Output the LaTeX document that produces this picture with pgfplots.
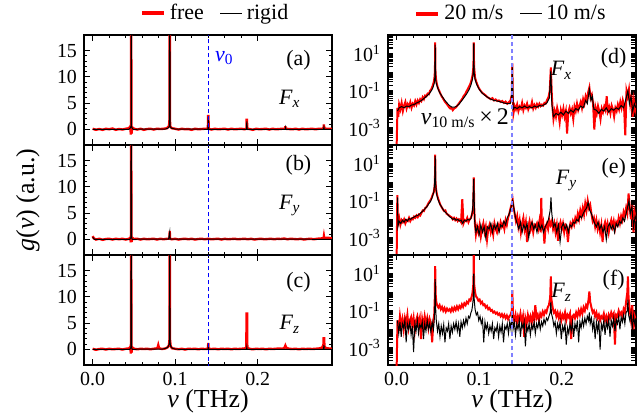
\documentclass[border=0pt]{standalone}
\usepackage{fontspec}
\setmainfont{Liberation Serif}
\usepackage{pgfplots}
\pgfplotsset{compat=1.18}

\definecolor{lightblue}{RGB}{128,128,255}

\newcommand{\nuu}{\textit{ν}}
\newcommand{\Fc}[1]{\textit{F}\textsubscript{\textit{#1}}}

\tikzset{lab/.style={font=\fontsize{11}{13}\selectfont}}

\pgfplotsset{
  panel/.style={
    scale only axis, width=124bp, height=55bp, anchor=south west,
    xmin=-0.0105, xmax=0.29,
    xtick={0,0.1,0.2}, minor x tick num=4, xticklabels={},
    tick align=inside,
    ticklabel style={font=\fontsize{10}{12}\selectfont},
    axis line style={line width=0.7pt},
    every tick/.style={line width=0.5pt, black},
    major tick length=3bp, minor tick length=1.7bp,
  },
  linpanel/.style={panel, ymin=-3, ymax=18,
    ytick={0,5,10,15}, yticklabels={0,5,10,15}, minor y tick num=4},
  % log axes: every decade and every 2..9 step is a tick, labels only at odd decades
  logpanel/.style={panel, ymin=1.2e-4, ymax=100,
    ytick={1e-4,2e-4,3e-4,4e-4,5e-4,6e-4,7e-4,8e-4,9e-4,
      1e-3,2e-3,3e-3,4e-3,5e-3,6e-3,7e-3,8e-3,9e-3,
      0.01,0.02,0.03,0.04,0.05,0.06,0.07,0.08,0.09,
      0.1,0.2,0.3,0.4,0.5,0.6,0.7,0.8,0.9,
      1,2,3,4,5,6,7,8,9,
      10,20,30,40,50,60,70,80,90,100},
    yticklabels={,,,,,,,,,{10\textsuperscript{-3}},,,,,,,,,,,,,,,,,,{10\textsuperscript{-1}},,,,,,,,,,,,,,,,,,{10\textsuperscript{1}},,,,,,,,,},
    ytick style={line width=0.6pt},
    major tick length=2.6bp},
  bottompanel/.style={xticklabels={0.0,0.1,0.2}},
  redline/.style={red, line width=1.2pt},
  blackline/.style={black, line width=0.5pt},
  toplegend/.style={legend style={at={(0.5,1)}, anchor=south, yshift=2bp,
    draw=none, fill=none, legend columns=2,
    font=\fontsize{11}{13}\selectfont,
    /tikz/every even column/.append style={column sep=6bp}},
    legend image code/.code={\draw[##1] (0bp,0bp) -- (11bp,0bp);}},
}

\begin{document}
\begin{tikzpicture}
\path[use as bounding box] (0,0) rectangle (320bp,209.5bp);

% ---------------- (a) Fx, free vs rigid
\begin{axis}[linpanel, at={(42bp,137bp)}, toplegend, legend style={xshift=4bp}]
\addlegendimage{red, line width=2bp}
\addlegendimage{blackline}
\addplot[redline] coordinates {
(0.000,0.1)(0.004,-0.1)(0.008,0.05)(0.012,-0.1)(0.016,0.1)(0.02,0)(0.024,0.15)(0.028,-0.1)
(0.032,0.05)(0.036,-0.05)(0.040,0.1)(0.044,0.2)(0.0458,0.6)(0.0462,-1)(0.0465,2)(0.0467,30)
(0.0469,2)(0.0472,-0.8)(0.0478,0.4)(0.050,0.1)(0.054,-0.05)(0.058,0.1)(0.062,-0.1)(0.066,0.05)
(0.07,0.1)(0.074,-0.05)(0.078,0.1)(0.082,0.05)(0.086,0.1)(0.09,0.2)(0.0925,0.6)(0.0932,2)
(0.0934,30)(0.0936,2)(0.094,0.5)(0.096,0.2)(0.1,0.1)(0.104,-0.05)(0.108,0.1)(0.112,0)
(0.116,0.05)(0.12,-0.1)(0.124,0.1)(0.128,0)(0.132,0.05)(0.136,0.1)(0.1396,0.1)(0.1399,2.5)
(0.1403,2.5)(0.1406,0.1)(0.144,-0.05)(0.148,0.1)(0.152,0)(0.156,0.05)(0.16,0.1)(0.164,-0.05)
(0.168,0.1)(0.172,0)(0.176,0.05)(0.18,0.1)(0.184,0)(0.1864,0.1)(0.1866,1.8)(0.1870,1.8)
(0.1872,0.1)(0.19,0.05)(0.194,-0.1)(0.198,0.1)(0.202,0)(0.206,0.05)(0.21,0.1)(0.214,-0.05)
(0.218,0.1)(0.222,0)(0.226,0.05)(0.23,0.1)(0.2332,0.1)(0.2335,0.6)(0.2338,0.1)(0.238,0.05)
(0.242,0)(0.246,0.1)(0.25,-0.05)(0.254,0.1)(0.258,0)(0.262,0.05)(0.266,0.1)(0.27,0)
(0.274,0.1)(0.278,0.1)(0.2798,0.2)(0.2802,0.9)(0.2806,0.2)(0.283,0.1)(0.29,0.1)};
\addplot[blackline] coordinates {
(0,0)(0.044,0)(0.0458,0.3)(0.0465,0.6)(0.0467,30)(0.0469,0.6)(0.0476,0.3)(0.049,0)
(0.088,0.05)(0.091,0.2)(0.0928,0.5)(0.0934,30)(0.094,0.5)(0.0955,0.2)(0.1,0.05)(0.1396,0)
(0.1401,2.5)(0.1406,0)(0.1864,0)(0.1868,1.5)(0.1872,0)(0.2335,0)(0.2338,0.3)(0.2341,0)
(0.2798,0)(0.2802,0.4)(0.2806,0)(0.29,0)};
\addplot[blue, line width=0.5pt, dash pattern=on 2bp off 1.5bp] coordinates {(0.14,-5)(0.14,25)};
\legend{free, rigid}
\node[lab, blue, anchor=west] at (rel axis cs:0.5,0.79) {\nuu\textsubscript{0}};
\node[lab] at (rel axis cs:0.865,0.77) {(a)};
\node[lab] at (rel axis cs:0.83,0.42) {\Fc{x}};
\end{axis}

% ---------------- (b) Fy
\begin{axis}[linpanel, at={(42bp,82bp)}]
\addplot[redline] coordinates {
(0.000,0.6)(0.0012,0.2)(0.004,-0.05)(0.008,0.1)(0.012,-0.1)(0.016,0.05)(0.02,0.1)(0.024,-0.05)
(0.028,0.1)(0.032,0)(0.036,0.1)(0.040,-0.05)(0.044,0.1)(0.0458,0.3)(0.0462,-0.6)(0.0465,1.5)
(0.0467,30)(0.0469,1.5)(0.0472,-0.5)(0.0478,0.3)(0.050,0.05)(0.054,0.1)(0.058,-0.05)(0.062,0.1)
(0.066,0)(0.07,0.05)(0.074,0.1)(0.078,-0.05)(0.082,0.1)(0.086,0)(0.09,0.1)(0.0931,0.1)
(0.0934,1.6)(0.0937,0.1)(0.096,0)(0.1,0.1)(0.104,-0.05)(0.108,0.05)(0.112,0.1)(0.116,0)
(0.12,0.1)(0.124,-0.05)(0.128,0.05)(0.132,0.1)(0.136,0)(0.14,0.1)(0.144,0)(0.148,0.05)
(0.152,0.1)(0.156,-0.05)(0.16,0.1)(0.164,0)(0.168,0.05)(0.172,0.1)(0.176,0)(0.18,0.05)
(0.184,0.1)(0.188,0)(0.192,0.1)(0.196,-0.05)(0.2,0.05)(0.204,0.1)(0.208,0)(0.212,0.05)
(0.216,0.1)(0.22,0)(0.224,0.1)(0.228,0.05)(0.232,0.15)(0.236,0)(0.24,0.1)(0.244,0.05)
(0.248,0)(0.252,0.1)(0.256,-0.05)(0.26,0.05)(0.264,0.1)(0.268,0)(0.272,0.1)(0.276,0.15)
(0.2798,0.2)(0.2802,0.6)(0.2806,0.2)(0.284,0.3)(0.29,0.2)};
\addplot[blackline] coordinates {
(0,0.4)(0.002,0)(0.045,0)(0.0462,0.3)(0.0467,30)(0.0472,0.3)(0.048,0)(0.092,0.05)
(0.0934,1.4)(0.0938,0.05)(0.29,0)};
\addplot[blue, line width=0.5pt, dash pattern=on 2bp off 1.5bp] coordinates {(0.14,-5)(0.14,25)};
\node[lab] at (rel axis cs:0.865,0.82) {(b)};
\node[lab] at (rel axis cs:0.83,0.45) {\Fc{y}};
\end{axis}

% ---------------- (c) Fz
\begin{axis}[linpanel, bottompanel, at={(42bp,27bp)}]
\addplot[redline] coordinates {
(0.000,0.1)(0.004,-0.1)(0.008,0.05)(0.012,0.1)(0.016,-0.05)(0.02,0.1)(0.024,0)(0.028,0.05)
(0.032,0.1)(0.036,-0.05)(0.04,0.1)(0.044,0.15)(0.0458,0.5)(0.0462,-0.8)(0.0465,2)(0.0467,30)
(0.0469,2)(0.0472,-0.6)(0.0478,0.4)(0.05,0.1)(0.054,0)(0.058,0.1)(0.062,0.05)(0.066,0.1)
(0.07,0)(0.074,0.1)(0.0785,0.2)(0.0795,0.8)(0.0805,0.2)(0.084,0.05)(0.088,0.15)(0.091,0.4)
(0.0925,0.8)(0.0932,2)(0.0934,30)(0.0936,2)(0.0945,0.6)(0.096,0.2)(0.1,0.1)(0.104,0)
(0.108,0.1)(0.112,-0.05)(0.116,0.1)(0.12,0.05)(0.124,0.1)(0.128,0)(0.132,0.1)(0.136,0.05)
(0.1397,0.1)(0.1401,1.2)(0.1405,0.1)(0.144,0.05)(0.148,0.1)(0.152,0)(0.156,0.1)(0.16,0.05)
(0.164,0.1)(0.168,0)(0.172,0.1)(0.176,0.05)(0.18,0.1)(0.184,0.15)(0.1862,0.3)(0.1865,6.8)
(0.1871,6.8)(0.1874,0.3)(0.19,0.1)(0.194,0)(0.198,0.1)(0.202,0.05)(0.206,0.1)(0.21,0)
(0.214,0.1)(0.218,0.05)(0.222,0.1)(0.226,0.15)(0.23,0.1)(0.2325,0.3)(0.2335,0.7)(0.2345,0.3)
(0.238,0.1)(0.242,0.05)(0.246,0.1)(0.25,0)(0.254,0.1)(0.258,0.05)(0.262,0.1)(0.266,0.05)
(0.27,0.1)(0.274,0.15)(0.278,0.3)(0.2796,0.8)(0.2799,2.1)(0.2805,2.1)(0.2808,0.5)(0.283,0.2)
(0.29,0.1)};
\addplot[blackline] coordinates {
(0,0)(0.045,0)(0.0462,0.3)(0.0467,30)(0.0472,0.3)(0.048,0)(0.085,0.05)(0.089,0.2)
(0.091,0.4)(0.0925,0.9)(0.093,1.3)(0.0934,30)(0.0938,1.3)(0.0945,0.6)(0.0965,0.2)(0.1,0.05)
(0.104,0)(0.1397,0)(0.1401,1.0)(0.1405,0)(0.1865,0)(0.1868,0.4)(0.1871,0)(0.2798,0)
(0.2802,0.8)(0.2806,0)(0.29,0)};
\addplot[blue, line width=0.5pt, dash pattern=on 2bp off 1.5bp] coordinates {(0.14,-5)(0.14,25)};
\node[lab] at (rel axis cs:0.865,0.75) {(c)};
\node[lab] at (rel axis cs:0.83,0.37) {\Fc{z}};
\end{axis}

% ---------------- (d) Fx, 20 vs 10 m/s
\begin{semilogyaxis}[logpanel, at={(194bp,137bp)}, toplegend]
\addlegendimage{red, line width=2bp}
\addlegendimage{blackline}
\addplot[red, line width=1pt] coordinates {
(0.0000,1.2e-4)(0.0010,0.012)(0.0020,0.004)(0.0030,0.018)(0.0045,0.010)(0.0060,0.022)
(0.0075,0.008)(0.0090,0.016)(0.0105,0.025)(0.0120,0.011)(0.0135,0.019)(0.0150,0.014)
(0.0165,0.024)(0.0180,0.012)(0.0195,0.020)(0.0210,0.016)(0.0225,0.028)(0.0240,0.018)
(0.0255,0.030)(0.0270,0.022)(0.0285,0.035)(0.0300,0.028)(0.0315,0.045)(0.0330,0.035)
(0.0345,0.055)(0.0360,0.05)(0.0375,0.07)(0.0390,0.065)(0.0405,0.10)(0.0420,0.12)
(0.0435,0.18)(0.0450,0.30)(0.0460,0.6)(0.0464,1.5)(0.0467,40)(0.0470,1.2)(0.0475,0.5)
(0.0485,0.25)(0.0500,0.14)(0.0515,0.10)(0.0530,0.07)(0.0545,0.05)(0.0560,0.04)
(0.0575,0.03)(0.0590,0.024)(0.0605,0.02)(0.0620,0.016)(0.0635,0.013)(0.0650,0.011)
(0.0665,0.012)(0.0680,0.009)(0.0695,0.011)(0.0710,0.012)(0.0725,0.014)(0.0740,0.017)
(0.0755,0.021)(0.0770,0.026)(0.0785,0.032)(0.0800,0.040)(0.0815,0.055)(0.0830,0.065)
(0.0845,0.090)(0.0860,0.12)(0.0875,0.16)(0.0890,0.22)(0.0905,0.35)(0.0920,0.7)(0.0930,2)
(0.0934,40)(0.0938,2)(0.0950,0.5)(0.0965,0.30)(0.0980,0.20)(0.0995,0.14)(0.1010,0.11)
(0.1025,0.09)(0.1040,0.075)(0.1060,0.065)(0.1080,0.055)(0.1100,0.045)(0.1120,0.040)
(0.1140,0.035)(0.1160,0.040)(0.1180,0.030)(0.1200,0.034)(0.1220,0.028)(0.1240,0.030)
(0.1260,0.025)(0.1280,0.028)(0.1300,0.022)(0.1320,0.026)(0.1340,0.020)(0.1360,0.024)
(0.1380,0.030)(0.1395,0.06)(0.1401,3)(0.1407,0.04)(0.1415,0.006)(0.1430,0.015)
(0.1445,0.010)(0.1460,0.018)(0.1475,0.008)(0.1490,0.014)(0.1505,0.011)(0.1520,0.022)
(0.1535,0.009)(0.1550,0.016)(0.1565,0.012)(0.1580,0.020)(0.1595,0.010)(0.1610,0.015)
(0.1625,0.013)(0.1640,0.025)(0.1655,0.011)(0.1670,0.017)(0.1685,0.012)(0.1700,0.019)
(0.1715,0.014)(0.1730,0.020)(0.1745,0.015)(0.1760,0.018)(0.1775,0.016)(0.1790,0.022)
(0.1805,0.020)(0.1820,0.030)(0.1840,0.045)(0.1855,0.10)(0.1868,1.8)(0.1880,0.06)
(0.1890,0.010)(0.1900,0.003)(0.1915,0.008)(0.1930,0.004)(0.1945,0.012)(0.1960,0.006)
(0.1975,0.002)(0.1990,0.009)(0.2005,0.005)(0.2020,0.011)(0.2035,0.004)(0.2050,0.008)
(0.2065,0.0005)(0.2080,0.007)(0.2095,0.012)(0.2110,0.006)(0.2125,0.010)(0.2140,0.003)
(0.2155,0.014)(0.2170,0.008)(0.2185,0.020)(0.2200,0.009)(0.2215,0.015)(0.2230,0.025)
(0.2245,0.012)(0.2260,0.035)(0.2275,0.020)(0.2290,0.050)(0.2305,0.03)(0.2320,0.08)
(0.2335,0.15)(0.2350,0.04)(0.2365,0.06)(0.2380,0.02)(0.2395,0.0008)(0.2410,0.012)
(0.2425,0.006)(0.2440,0.015)(0.2455,0.008)(0.2470,0.003)(0.2485,0.011)(0.2500,0.007)
(0.2515,0.014)(0.2530,0.009)(0.2545,0.05)(0.2560,0.008)(0.2575,0.013)(0.2590,0.006)
(0.2605,0.016)(0.2620,0.010)(0.2635,0.004)(0.2650,0.012)(0.2665,0.008)(0.2680,0.018)
(0.2695,0.010)(0.2710,0.025)(0.2725,0.012)(0.2740,0.03)(0.2755,0.015)(0.2770,0.0004)
(0.2785,0.10)(0.2800,0.05)(0.2815,0.12)(0.2830,0.02)(0.2845,0.06)(0.2860,0.004)
(0.2875,0.03)(0.2890,0.01)(0.2900,0.02)};
\addplot[blackline] coordinates {
(0.0010,0.008)(0.003,0.012)(0.006,0.014)(0.009,0.012)(0.012,0.015)(0.015,0.014)(0.018,0.017)
(0.021,0.018)(0.024,0.022)(0.027,0.025)(0.030,0.03)(0.033,0.038)(0.036,0.05)(0.039,0.065)
(0.042,0.10)(0.044,0.15)(0.0455,0.25)(0.0462,0.5)(0.0467,30)(0.0472,0.4)(0.048,0.25)
(0.050,0.13)(0.052,0.08)(0.055,0.05)(0.058,0.032)(0.061,0.022)(0.064,0.016)(0.067,0.013)
(0.070,0.013)(0.073,0.015)(0.076,0.02)(0.079,0.03)(0.082,0.045)(0.085,0.07)(0.088,0.12)
(0.090,0.2)(0.092,0.45)(0.093,1.2)(0.0934,35)(0.0938,1.0)(0.095,0.4)(0.097,0.22)(0.100,0.12)
(0.103,0.08)(0.106,0.06)(0.110,0.045)(0.114,0.035)(0.118,0.03)(0.122,0.028)(0.126,0.025)
(0.130,0.022)(0.134,0.02)(0.1375,0.02)(0.139,0.03)(0.1401,1.8)(0.1412,0.01)(0.143,0.013)
(0.146,0.011)(0.149,0.014)(0.152,0.012)(0.155,0.015)(0.158,0.012)(0.161,0.014)(0.164,0.012)
(0.167,0.015)(0.170,0.013)(0.173,0.016)(0.176,0.015)(0.179,0.018)(0.182,0.022)(0.185,0.04)
(0.1868,1.2)(0.188,0.02)(0.190,0.004)(0.193,0.006)(0.196,0.005)(0.199,0.007)(0.202,0.005)
(0.205,0.008)(0.208,0.006)(0.211,0.009)(0.214,0.007)(0.217,0.011)(0.220,0.009)(0.223,0.015)
(0.226,0.012)(0.229,0.03)(0.231,0.02)(0.2335,0.12)(0.2355,0.03)(0.237,0.05)(0.239,0.01)
(0.242,0.009)(0.245,0.006)(0.248,0.01)(0.251,0.008)(0.254,0.012)(0.257,0.007)(0.260,0.011)
(0.263,0.009)(0.266,0.012)(0.269,0.01)(0.272,0.016)(0.275,0.012)(0.278,0.04)(0.2802,0.1)
(0.282,0.02)(0.284,0.05)(0.286,0.008)(0.288,0.02)(0.290,0.012)};
\addplot[lightblue, line width=0.9pt, dash pattern=on 2bp off 1.5bp] coordinates {(0.14,1e-5)(0.14,1e3)};
\legend{20 m/s, 10 m/s}
\node[lab] at (rel axis cs:0.91,0.79) {(d)};
\node[lab] at (rel axis cs:0.70,0.68) {\Fc{x}};
\node[font=\fontsize{12}{14}\selectfont] at (rel axis cs:0.31,0.245) {\nuu\textsubscript{10 m/s}\,×\,2};
\end{semilogyaxis}

% ---------------- (e) Fy
\begin{semilogyaxis}[logpanel, at={(194bp,82bp)}]
\addplot[red, line width=1pt] coordinates {
(0.0000,1e-4)(0.0008,0.2)(0.0015,0.006)(0.003,0.012)(0.0045,0.005)(0.006,0.009)(0.0075,0.007)
(0.009,0.010)(0.0105,0.006)(0.012,0.009)(0.0135,0.008)(0.015,0.012)(0.0165,0.008)(0.018,0.011)
(0.0195,0.010)(0.021,0.014)(0.0225,0.012)(0.024,0.016)(0.0255,0.013)(0.027,0.018)(0.0285,0.016)
(0.030,0.022)(0.0315,0.03)(0.033,0.028)(0.0345,0.04)(0.036,0.045)(0.0375,0.06)(0.039,0.08)
(0.0405,0.1)(0.042,0.13)(0.0435,0.2)(0.045,0.3)(0.046,0.6)(0.0464,1.5)(0.0467,30)(0.047,1.2)
(0.0475,0.5)(0.0485,0.25)(0.050,0.14)(0.0515,0.09)(0.053,0.06)(0.0545,0.045)(0.056,0.035)
(0.0575,0.028)(0.059,0.03)(0.0605,0.02)(0.062,0.018)(0.0635,0.016)(0.065,0.014)(0.0665,0.013)
(0.068,0.01)(0.0695,0.012)(0.071,0.009)(0.0725,0.011)(0.074,0.008)(0.0755,0.01)(0.0765,0.009)
(0.078,0.007)(0.0795,0.12)(0.081,0.006)(0.0825,0.009)(0.084,0.008)(0.0855,0.012)(0.087,0.007)
(0.0885,0.010)(0.090,0.012)(0.0915,0.02)(0.0928,0.05)(0.0934,1.8)(0.094,0.04)(0.0948,0.006)
(0.096,0.0015)(0.0975,0.004)(0.099,0.002)(0.1005,0.005)(0.102,0.0012)(0.1035,0.003)(0.105,0.006)
(0.1065,0.002)(0.108,0.004)(0.1095,0.0008)(0.111,0.003)(0.1125,0.005)(0.114,0.002)(0.1155,0.004)
(0.117,0.0015)(0.1185,0.006)(0.120,0.003)(0.1215,0.002)(0.123,0.005)(0.1245,0.003)(0.126,0.007)
(0.1275,0.004)(0.129,0.006)(0.1305,0.003)(0.132,0.009)(0.1335,0.005)(0.135,0.012)(0.1365,0.02)
(0.138,0.04)(0.1395,0.07)(0.1405,0.12)(0.1415,0.05)(0.143,0.02)(0.1445,0.008)(0.146,0.015)
(0.1475,0.004)(0.149,0.009)(0.1505,0.002)(0.152,0.006)(0.1535,0.012)(0.155,0.003)(0.1565,0.007)
(0.158,0.0006)(0.1595,0.004)(0.161,0.008)(0.1625,0.003)(0.164,0.006)(0.1655,0.002)(0.167,0.005)
(0.1685,0.004)(0.170,0.006)(0.1715,0.003)(0.173,0.008)(0.1745,0.002)(0.1752,0.14)(0.176,0.004)
(0.1775,0.007)(0.179,0.0005)(0.1805,0.004)(0.182,0.006)(0.1835,0.003)(0.185,0.009)(0.1865,0.005)
(0.188,0.008)(0.1895,0.003)(0.191,0.006)(0.1925,0.002)(0.194,0.005)(0.1955,0.0007)(0.197,0.004)
(0.1985,0.007)(0.200,0.003)(0.2015,0.006)(0.203,0.002)(0.2045,0.005)(0.206,0.004)(0.2075,0.0006)
(0.209,0.003)(0.2105,0.006)(0.212,0.004)(0.2135,0.008)(0.215,0.005)(0.2165,0.012)(0.218,0.008)
(0.2195,0.02)(0.221,0.01)(0.2225,0.03)(0.224,0.015)(0.2255,0.04)(0.227,0.018)(0.2285,0.07)
(0.230,0.03)(0.2315,0.1)(0.233,0.04)(0.2345,0.06)(0.236,0.02)(0.2375,0.008)(0.239,0.012)
(0.2405,0.004)(0.242,0.009)(0.2435,0.003)(0.245,0.006)(0.2465,0.002)(0.248,0.005)(0.2495,0.0006)
(0.251,0.004)(0.2525,0.007)(0.254,0.003)(0.2555,0.006)(0.257,0.002)(0.2585,0.005)(0.260,0.009)
(0.2615,0.004)(0.263,0.008)(0.2645,0.003)(0.266,0.007)(0.2675,0.005)(0.269,0.012)(0.2705,0.006)
(0.272,0.015)(0.2735,0.009)(0.275,0.025)(0.2765,0.015)(0.278,0.04)(0.2795,0.02)(0.281,0.25)
(0.2825,0.04)(0.284,0.01)(0.2855,0.06)(0.287,0.002)(0.2885,0.02)(0.290,0.008)};
\addplot[blackline] coordinates {
(0.001,0.15)(0.0015,0.004)(0.003,0.008)(0.005,0.006)(0.007,0.009)(0.009,0.007)(0.011,0.010)
(0.013,0.008)(0.015,0.011)(0.017,0.010)(0.019,0.012)(0.021,0.013)(0.023,0.015)(0.025,0.016)
(0.027,0.018)(0.029,0.022)(0.031,0.026)(0.033,0.032)(0.035,0.04)(0.037,0.05)(0.039,0.07)
(0.041,0.09)(0.043,0.15)(0.045,0.3)(0.046,0.8)(0.0467,25)(0.0474,0.6)(0.0485,0.22)(0.050,0.12)
(0.052,0.07)(0.054,0.05)(0.056,0.035)(0.058,0.026)(0.060,0.022)(0.062,0.018)(0.064,0.014)
(0.066,0.012)(0.068,0.010)(0.070,0.011)(0.072,0.009)(0.074,0.010)(0.076,0.008)(0.078,0.009)
(0.080,0.006)(0.082,0.009)(0.084,0.008)(0.086,0.010)(0.088,0.009)(0.090,0.011)(0.092,0.03)
(0.0934,1.5)(0.0945,0.008)(0.096,0.002)(0.098,0.004)(0.100,0.0015)(0.102,0.005)(0.104,0.002)
(0.106,0.004)(0.108,0.001)(0.110,0.004)(0.112,0.003)(0.114,0.006)(0.116,0.002)(0.118,0.005)
(0.120,0.003)(0.122,0.006)(0.124,0.002)(0.126,0.005)(0.128,0.004)(0.130,0.008)(0.132,0.005)
(0.134,0.012)(0.136,0.018)(0.138,0.035)(0.1405,0.1)(0.142,0.04)(0.144,0.012)(0.146,0.006)
(0.148,0.003)(0.150,0.007)(0.152,0.002)(0.154,0.005)(0.156,0.003)(0.158,0.006)(0.160,0.001)
(0.162,0.004)(0.164,0.007)(0.166,0.003)(0.168,0.005)(0.170,0.002)(0.172,0.006)(0.174,0.003)
(0.176,0.005)(0.178,0.002)(0.180,0.004)(0.182,0.006)(0.184,0.01)(0.186,0.03)(0.187,0.15)
(0.188,0.02)(0.190,0.004)(0.192,0.006)(0.194,0.002)(0.196,0.005)(0.198,0.0006)(0.200,0.004)
(0.202,0.006)(0.204,0.003)(0.206,0.005)(0.208,0.002)(0.210,0.005)(0.212,0.004)(0.214,0.007)
(0.216,0.006)(0.218,0.01)(0.220,0.008)(0.222,0.015)(0.224,0.012)(0.226,0.02)(0.228,0.03)
(0.230,0.04)(0.232,0.08)(0.234,0.03)(0.236,0.02)(0.238,0.01)(0.240,0.006)(0.242,0.004)
(0.244,0.007)(0.246,0.003)(0.248,0.005)(0.250,0.002)(0.252,0.004)(0.254,0.0008)(0.256,0.004)
(0.258,0.006)(0.260,0.003)(0.262,0.005)(0.264,0.002)(0.266,0.006)(0.268,0.004)(0.270,0.008)
(0.272,0.006)(0.274,0.012)(0.276,0.008)(0.278,0.02)(0.280,0.05)(0.2815,0.1)(0.283,0.02)
(0.285,0.05)(0.287,0.004)(0.289,0.015)(0.290,0.01)};
\addplot[lightblue, line width=0.9pt, dash pattern=on 2bp off 1.5bp] coordinates {(0.14,1e-5)(0.14,1e3)};
\node[lab] at (rel axis cs:0.91,0.79) {(e)};
\node[lab] at (rel axis cs:0.72,0.68) {\Fc{y}};
\end{semilogyaxis}

% ---------------- (f) Fz
\begin{semilogyaxis}[logpanel, bottompanel, at={(194bp,27bp)}]
\addplot[red, line width=1pt] coordinates {
(0.000,1e-4)(0.001,0.03)(0.0025,0.008)(0.004,0.05)(0.0055,0.015)(0.007,0.035)(0.0085,0.01)
(0.010,0.04)(0.0115,0.02)(0.013,0.06)(0.0145,0.012)(0.016,0.03)(0.0175,0.045)(0.019,0.015)
(0.0205,0.04)(0.022,0.008)(0.0235,0.03)(0.025,0.05)(0.0265,0.02)(0.028,0.04)(0.0295,0.003)
(0.031,0.035)(0.0325,0.015)(0.034,0.05)(0.0355,0.02)(0.037,0.04)(0.0385,0.012)(0.040,0.035)
(0.0415,0.02)(0.043,0.002)(0.0445,0.03)(0.0455,0.06)(0.0462,0.5)(0.0467,25)(0.0472,0.8)
(0.048,0.3)(0.049,0.2)(0.0505,0.15)(0.052,0.2)(0.0535,0.12)(0.055,0.16)(0.0565,0.1)(0.058,0.14)
(0.0595,0.09)(0.061,0.13)(0.0625,0.1)(0.064,0.12)(0.0655,0.09)(0.067,0.14)(0.0685,0.1)
(0.070,0.15)(0.0715,0.11)(0.073,0.17)(0.0745,0.12)(0.076,0.18)(0.0775,0.14)(0.079,0.22)
(0.0805,0.16)(0.082,0.25)(0.0835,0.2)(0.085,0.3)(0.0865,0.25)(0.088,0.4)(0.0895,0.35)(0.091,0.6)
(0.092,1)(0.093,3)(0.0934,150)(0.0938,3)(0.095,1)(0.096,0.6)(0.0975,0.5)(0.099,0.35)(0.1005,0.4)
(0.102,0.25)(0.1035,0.3)(0.105,0.2)(0.1065,0.22)(0.108,0.15)(0.1095,0.18)(0.111,0.12)
(0.1125,0.14)(0.114,0.1)(0.1155,0.11)(0.117,0.08)(0.1185,0.09)(0.120,0.07)(0.1215,0.08)
(0.123,0.06)(0.1245,0.07)(0.126,0.05)(0.1275,0.065)(0.129,0.045)(0.1305,0.06)(0.132,0.04)
(0.1335,0.055)(0.135,0.035)(0.1365,0.05)(0.138,0.06)(0.1395,0.1)(0.1401,1.3)(0.141,0.05)
(0.1425,0.03)(0.144,0.06)(0.1455,0.02)(0.147,0.05)(0.1485,0.03)(0.150,0.07)(0.1515,0.025)
(0.153,0.05)(0.1545,0.004)(0.156,0.04)(0.1575,0.02)(0.159,0.06)(0.1605,0.03)(0.162,0.05)
(0.1635,0.02)(0.165,0.06)(0.1665,0.035)(0.168,0.2)(0.1695,0.04)(0.171,0.06)(0.1725,0.03)
(0.174,0.07)(0.1755,0.05)(0.177,0.09)(0.1785,0.06)(0.180,0.1)(0.1815,0.08)(0.183,0.15)
(0.1845,0.2)(0.186,0.5)(0.1868,7)(0.1876,0.4)(0.189,0.15)(0.1905,0.08)(0.192,0.1)(0.1935,0.05)
(0.195,0.08)(0.1965,0.04)(0.198,0.07)(0.1995,0.03)(0.201,0.06)(0.2025,0.04)(0.204,0.08)
(0.2055,0.03)(0.207,0.06)(0.2085,0.045)(0.210,0.07)(0.2115,0.003)(0.213,0.05)(0.2145,0.06)
(0.216,0.04)(0.2175,0.08)(0.219,0.05)(0.2205,0.1)(0.222,0.06)(0.2235,0.12)(0.225,0.07)
(0.2265,0.15)(0.228,0.1)(0.2295,0.2)(0.231,0.15)(0.2325,0.4)(0.2335,1.1)(0.2345,0.3)(0.236,0.15)
(0.2375,0.08)(0.239,0.1)(0.2405,0.05)(0.242,0.08)(0.2435,0.04)(0.245,0.06)(0.2465,0.03)
(0.248,0.05)(0.2495,0.04)(0.251,0.07)(0.2525,0.03)(0.254,0.05)(0.2555,0.025)(0.257,0.06)
(0.2585,0.04)(0.260,0.08)(0.2615,0.05)(0.263,0.07)(0.2645,0.0015)(0.266,0.06)(0.2675,0.05)
(0.269,0.1)(0.2705,0.06)(0.272,0.08)(0.2735,0.05)(0.275,0.12)(0.2765,0.08)(0.278,0.3)
(0.2795,1)(0.2802,7)(0.281,0.5)(0.2825,0.1)(0.284,0.03)(0.2855,0.2)(0.287,0.01)(0.2885,0.05)
(0.290,0.03)};
\addplot[blackline] coordinates {
(0.001,0.03)(0.0025,0.006)(0.004,0.025)(0.0055,0.004)(0.007,0.02)(0.0085,0.012)(0.010,0.03)
(0.0115,0.002)(0.013,0.02)(0.0145,0.01)(0.016,0.025)(0.0175,0.005)(0.019,0.015)(0.0205,0.0006)
(0.022,0.02)(0.0235,0.008)(0.025,0.03)(0.0265,0.006)(0.028,0.018)(0.0295,0.012)(0.031,0.025)
(0.0325,0.003)(0.034,0.02)(0.0355,0.008)(0.037,0.03)(0.0385,0.01)(0.040,0.02)(0.0415,0.007)
(0.043,0.025)(0.0445,0.01)(0.0455,0.03)(0.0462,0.2)(0.0467,5)(0.0472,0.15)(0.048,0.03)
(0.0495,0.008)(0.051,0.02)(0.0525,0.004)(0.054,0.015)(0.0555,0.006)(0.057,0.018)(0.0585,0.002)
(0.060,0.012)(0.0615,0.008)(0.063,0.02)(0.0645,0.003)(0.066,0.015)(0.0675,0.007)(0.069,0.02)
(0.0705,0.01)(0.072,0.025)(0.0735,0.008)(0.075,0.02)(0.0765,0.004)(0.078,0.025)(0.0795,0.012)
(0.081,0.03)(0.0825,0.015)(0.084,0.04)(0.0855,0.02)(0.087,0.05)(0.0885,0.04)(0.090,0.08)
(0.091,0.1)(0.092,0.2)(0.093,0.6)(0.0934,10)(0.0938,0.5)(0.095,0.12)(0.0965,0.06)(0.098,0.08)
(0.0995,0.03)(0.101,0.05)(0.1025,0.02)(0.104,0.035)(0.1055,0.002)(0.107,0.025)(0.1085,0.01)
(0.110,0.02)(0.1115,0.006)(0.113,0.015)(0.1145,0.008)(0.116,0.02)(0.1175,0.003)(0.119,0.012)
(0.1205,0.008)(0.122,0.018)(0.1235,0.004)(0.125,0.015)(0.1265,0.007)(0.128,0.02)(0.1295,0.002)
(0.131,0.015)(0.1325,0.01)(0.134,0.02)(0.1355,0.006)(0.137,0.025)(0.1385,0.01)(0.1401,0.08)
(0.141,0.01)(0.1425,0.025)(0.144,0.005)(0.1455,0.02)(0.147,0.01)(0.1485,0.03)(0.150,0.004)
(0.1515,0.02)(0.153,0.012)(0.1545,0.025)(0.156,0.0012)(0.1575,0.015)(0.159,0.008)(0.1605,0.02)
(0.162,0.005)(0.1635,0.018)(0.165,0.01)(0.1665,0.025)(0.168,0.006)(0.1695,0.02)(0.171,0.012)
(0.1725,0.03)(0.174,0.01)(0.1755,0.025)(0.177,0.015)(0.1785,0.035)(0.180,0.02)(0.1815,0.04)
(0.183,0.03)(0.1845,0.05)(0.186,0.08)(0.1868,0.3)(0.1876,0.07)(0.189,0.04)(0.1905,0.015)
(0.192,0.025)(0.1935,0.006)(0.195,0.02)(0.1965,0.01)(0.198,0.025)(0.1995,0.003)(0.201,0.015)
(0.2025,0.008)(0.204,0.02)(0.2055,0.0015)(0.207,0.012)(0.2085,0.006)(0.210,0.02)(0.2115,0.008)
(0.213,0.025)(0.2145,0.004)(0.216,0.02)(0.2175,0.01)(0.219,0.03)(0.2205,0.002)(0.222,0.025)
(0.2235,0.012)(0.225,0.035)(0.2265,0.015)(0.228,0.04)(0.2295,0.02)(0.231,0.05)(0.2325,0.03)
(0.2335,0.08)(0.2345,0.02)(0.236,0.04)(0.2375,0.01)(0.239,0.03)(0.2405,0.003)(0.242,0.025)
(0.2435,0.008)(0.245,0.03)(0.2465,0.0008)(0.248,0.02)(0.2495,0.01)(0.251,0.03)(0.2525,0.005)
(0.254,0.025)(0.2555,0.012)(0.257,0.035)(0.2585,0.004)(0.260,0.03)(0.2615,0.015)(0.263,0.04)
(0.2645,0.008)(0.266,0.035)(0.2675,0.02)(0.269,0.05)(0.2705,0.01)(0.272,0.045)(0.2735,0.025)
(0.275,0.06)(0.2765,0.02)(0.278,0.08)(0.2795,0.1)(0.2802,0.4)(0.281,0.06)(0.2825,0.03)
(0.284,0.08)(0.2855,0.01)(0.287,0.05)(0.2885,0.02)(0.290,0.04)};
\addplot[lightblue, line width=0.9pt, dash pattern=on 2bp off 1.5bp] coordinates {(0.14,1e-5)(0.14,1e3)};
\node[lab] at (rel axis cs:0.91,0.77) {(f)};
\node[lab] at (rel axis cs:0.70,0.66) {\Fc{z}};
\end{semilogyaxis}

% axis titles
\node[rotate=90, font=\fontsize{13}{15}\selectfont] at (14bp,109.5bp) {\textit{g}(\nuu) (a.u.)};
\node[font=\fontsize{13}{15}\selectfont] at (104bp,9bp) {\nuu\ (THz)};
\node[font=\fontsize{13}{15}\selectfont] at (256bp,9bp) {\nuu\ (THz)};
\end{tikzpicture}
\end{document}
